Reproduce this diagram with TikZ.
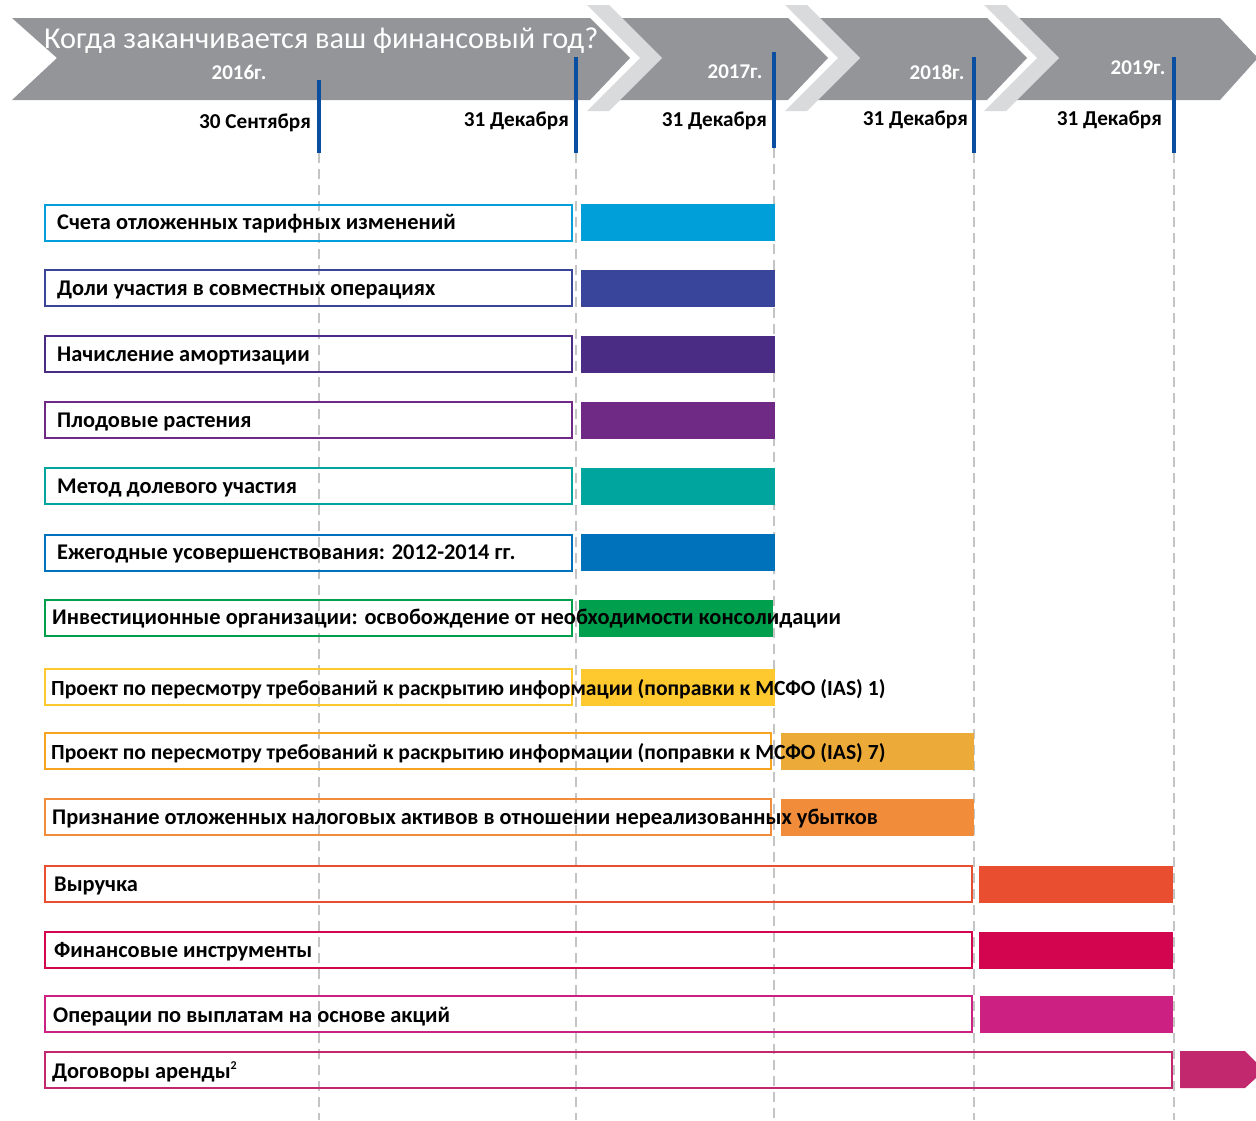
\documentclass[tikz,border=0pt]{standalone}
\usepackage{fontspec}
\setmainfont{Carlito}
\definecolor{bgray}{HTML}{939598}
\definecolor{lgray}{HTML}{D9DADC}
\definecolor{mblue}{HTML}{0A4EA2}
\definecolor{guidegray}{HTML}{C4C4C4}
\definecolor{c1}{HTML}{009FDA}
\definecolor{c2}{HTML}{38459A}
\definecolor{c3}{HTML}{4B2C85}
\definecolor{c4}{HTML}{6E2A84}
\definecolor{c5}{HTML}{00A59E}
\definecolor{c6}{HTML}{0072BC}
\definecolor{c7}{HTML}{009F4D}
\definecolor{c8}{HTML}{FDC92F}
\definecolor{c9}{HTML}{ECAA38}
\definecolor{c9b}{HTML}{F7A520}
\definecolor{c10}{HTML}{F18D3A}
\definecolor{c11}{HTML}{E84E2F}
\definecolor{c12}{HTML}{D4054F}
\definecolor{c13}{HTML}{CC2183}
\definecolor{c14}{HTML}{C2286E}
\begin{document}
\begin{tikzpicture}[x=1pt,y=-1pt,
  fs/.style={font=\fontsize{22.4}{26}\selectfont\bfseries},
  fsn/.style={font=\fontsize{21.6}{26}\selectfont\bfseries},
  lbl/.style={fs, text=black, inner sep=0pt, anchor=west},
  boxst/.style={line width=2pt, inner sep=0pt, anchor=west, minimum height=36pt},
  barst/.style={inner sep=0pt, anchor=west, minimum height=37pt},
  yearst/.style={font=\fontsize{21}{24}\selectfont\bfseries, text=white, inner sep=0pt},
  datest/.style={font=\fontsize{21.2}{24}\selectfont\bfseries, inner sep=0pt, anchor=east},
  marker/.style={draw=mblue, line width=4pt},
  guide/.style={draw=guidegray, line width=2.5pt, dash pattern=on 10pt off 6pt}]
\useasboundingbox (0,0) rectangle (1256,1120);
% banner
\fill[bgray] (12,18) -- (590,18) -- (630,58) -- (590,100) -- (12,100) -- (57,58) -- cycle;
\fill[bgray] (615,18) -- (788,18) -- (828,58) -- (788,100) -- (615,100) -- (655,58) -- cycle;
\fill[bgray] (813,18) -- (987,18) -- (1027,58) -- (987,100) -- (813,100) -- (853,58) -- cycle;
\fill[bgray] (1012,18) -- (1220,18) -- (1256,56) -- (1256,60) -- (1220,100) -- (1012,100) -- (1052,58) -- cycle;
\foreach \dx in {0,198,397}{
  \fill[lgray] (587+\dx,5) -- (609+\dx,5) -- (662+\dx,58) -- (609+\dx,111) -- (587+\dx,111) -- (640+\dx,58) -- cycle;
}
\node[font=\fontsize{30.3}{34}\selectfont, text=white, inner sep=0pt, anchor=base west] (title) at (44,48) {Когда заканчивается ваш финансовый год?};
\node[yearst] (y16) at (239,72) {2016г.};
\node[yearst] (y17) at (735,72) {2017г.};
\node[yearst] (y18) at (937,72) {2018г.};
\node[yearst] (y19) at (1138,68) {2019г.};
% markers
\coordinate (m1t) at (319,80);  \coordinate (m1b) at (319,153); \coordinate (g1) at (319,1120);
\coordinate (m2t) at (576,57);  \coordinate (m2b) at (576,153); \coordinate (g2) at (576,1120);
\coordinate (m3t) at (774,52);  \coordinate (m3b) at (774,148); \coordinate (g3) at (774,1120);
\coordinate (m4t) at (974,57);  \coordinate (m4b) at (974,153); \coordinate (g4) at (974,1120);
\coordinate (m5t) at (1174,57); \coordinate (m5b) at (1174,153); \coordinate (g5) at (1174,1120);
\foreach \i in {1,...,5}{
  \draw[marker] (m\i t) -- (m\i b);
  \draw[guide] (m\i b) -- (g\i);
}
\node[datest] (d1) at (311,123) {30 Сентября};
\node[datest] (d2) at (569,121) {31 Декабря};
\node[datest] (d3) at (767,121) {31 Декабря};
\node[datest] (d4) at (968,120) {31 Декабря};
\node[datest] (d5) at (1162,120) {31 Декабря};
% rows
\newcommand{\rowitem}[8]{%
  \node[boxst, draw=#6, minimum width={#3-44}] (box#1) at (44,#2) {};
  \node[barst, fill=#7, minimum width={#5-#4}] (bar#1) at (#4,#2) {};
}
\rowitem{1}{222.5}{571}{581}{775}{c1}{c1}{}
\rowitem{2}{288}{571}{581}{775}{c2}{c2}{}
\rowitem{3}{354}{571}{581}{775}{c3}{c3}{}
\rowitem{4}{420}{571}{581}{775}{c4}{c4}{}
\rowitem{5}{486}{571}{581}{775}{c5}{c5}{}
\rowitem{6}{552.5}{571}{581}{775}{c6}{c6}{}
\rowitem{7}{618}{571}{579}{773}{c7}{c7}{}
\rowitem{8}{687}{571}{581}{775}{c8}{c8}{}
\rowitem{9}{751}{770}{781}{974}{c9b}{c9}{}
\rowitem{10}{817}{770}{781}{974}{c10}{c10}{}
\rowitem{11}{884}{971}{979}{1173}{c11}{c11}{}
\rowitem{12}{950}{971}{979}{1173}{c12}{c12}{}
\rowitem{13}{1014}{971}{980}{1173}{c13}{c13}{}
\node[boxst, draw=c14, minimum width=1127pt] (box14) at (44,1069.5) {};
\fill[c14] (1180,1051) -- (1245,1051) -- (1256,1062) -- (1256,1078) -- (1245,1088) -- (1180,1088) -- cycle;
\coordinate (bar14) at (1210,1069.5);
% texts
\node[lbl] (t1) at (57,224) {Счета отложенных тарифных изменений};
\node[lbl] (t2) at (57,290) {Доли участия в совместных операциях};
\node[lbl] (t3) at (57,356) {Начисление амортизации};
\node[lbl] (t4) at (57,422) {Плодовые растения};
\node[lbl] (t5) at (57,488) {Метод долевого участия};
\node[lbl] (t6) at (57,554) {Ежегодные усовершенствования: 2012-2014 гг.};
\node[lbl] (t7) at (52,619) {Инвестиционные организации: освобождение от необходимости консолидации};
\node[lbl, fsn] (t8) at (51,689) {Проект по пересмотру требований к раскрытию информации (поправки к МСФО (IAS) 1)};
\node[lbl, fsn] (t9) at (51,753) {Проект по пересмотру требований к раскрытию информации (поправки к МСФО (IAS) 7)};
\node[lbl] (t10) at (52,819) {Признание отложенных налоговых активов в отношении нереализованных убытков};
\node[lbl] (t11) at (54,886) {Выручка};
\node[lbl] (t12) at (54,952) {Финансовые инструменты};
\node[lbl] (t13) at (53,1017) {Операции по выплатам на основе акций};
\node[lbl] (t14) at (52,1072) {Договоры аренды\raisebox{9pt}{\fontsize{12}{13}\selectfont 2}};
\end{tikzpicture}
\end{document}
